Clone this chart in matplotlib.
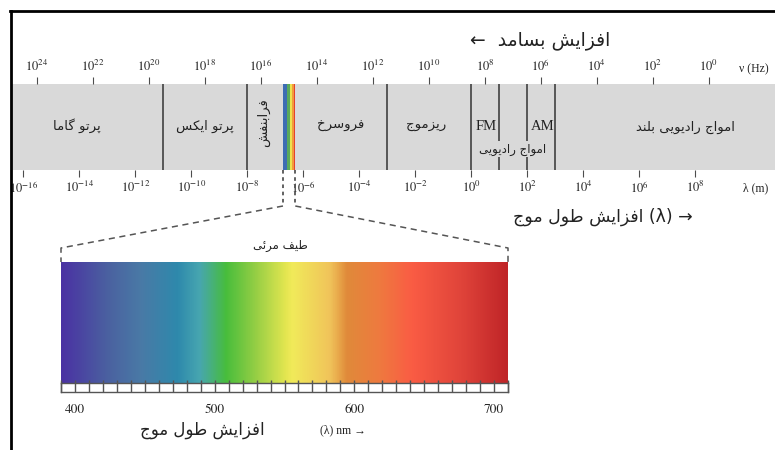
import numpy as np
import matplotlib
matplotlib.use('Agg')
import matplotlib.pyplot as plt
from matplotlib.lines import Line2D
from matplotlib.colors import LinearSegmentedColormap
from matplotlib.ticker import FixedLocator, FuncFormatter, NullLocator

plt.rcParams['mathtext.fontset'] = 'stix'

# ---------------- data ----------------
C_LIGHT = 3.0e8  # m/s
freq_tick_exp = [24, 22, 20, 18, 16, 14, 12, 10, 8, 6, 4, 2, 0]
wave_tick_exp = [-16, -14, -12, -10, -8, -6, -4, -2, 0, 2, 4, 6, 8]
wave_range_m = [10 ** -16.41, 10 ** 10.84]
boundaries_m = [1e-11, 1e-8, 1e-3, 1.0, 10.0, 100.0, 1000.0]
strip_edges_m = [1.85e-7, 2.6e-7, 3.2e-7, 4.0e-7, 4.6e-7, 5.1e-7]
strip_colors = ['#3d6db4', '#5aa95c', '#ece24e', '#f29a3a', '#e6412e']
visible_range_nm = [390, 710]
vis_stop_nm = [390, 423, 447, 473, 489, 508, 530, 551, 556, 583, 595, 618, 642, 677, 710]
vis_stop_colors = ['#4a32a3', '#4b61a0', '#497aa6', '#2e89ac', '#47a6b0', '#48bd3c',
                   '#98cf45', '#e4e650', '#f1ea5a', '#f0c35a', '#e08a3a', '#ee7a3f',
                   '#fa5c44', '#e0443a', '#c02528']
vis_tick_nm = [400, 500, 600, 700]
vis_cell_nm = 10

W, H = 775, 450
BAND_GRAY = '#d9d9d9'
LINE_GRAY = '#4d4d4d'

# ---------------- Persian shaping (presentation forms + visual order) ----------------
_FORMS = {
    '\u0627': ('\uFE8D', '\uFE8E', None, None),
    '\u0628': ('\uFE8F', '\uFE90', '\uFE91', '\uFE92'),
    '\u067E': ('\uFB56', '\uFB57', '\uFB58', '\uFB59'),
    '\u062A': ('\uFE95', '\uFE96', '\uFE97', '\uFE98'),
    '\u062C': ('\uFE9D', '\uFE9E', '\uFE9F', '\uFEA0'),
    '\u062E': ('\uFEA5', '\uFEA6', '\uFEA7', '\uFEA8'),
    '\u062F': ('\uFEA9', '\uFEAA', None, None),
    '\u0631': ('\uFEAD', '\uFEAE', None, None),
    '\u0632': ('\uFEAF', '\uFEB0', None, None),
    '\u0633': ('\uFEB1', '\uFEB2', '\uFEB3', '\uFEB4'),
    '\u0634': ('\uFEB5', '\uFEB6', '\uFEB7', '\uFEB8'),
    '\u0637': ('\uFEC1', '\uFEC2', '\uFEC3', '\uFEC4'),
    '\u0641': ('\uFED1', '\uFED2', '\uFED3', '\uFED4'),
    '\u06A9': ('\uFB8E', '\uFB8F', '\uFB90', '\uFB91'),
    '\u06AF': ('\uFB92', '\uFB93', '\uFB94', '\uFB95'),
    '\u0644': ('\uFEDD', '\uFEDE', '\uFEDF', '\uFEE0'),
    '\u0645': ('\uFEE1', '\uFEE2', '\uFEE3', '\uFEE4'),
    '\u0646': ('\uFEE5', '\uFEE6', '\uFEE7', '\uFEE8'),
    '\u0648': ('\uFEED', '\uFEEE', None, None),
    '\u06CC': ('\uFBFC', '\uFBFD', '\uFBFE', '\uFBFF'),
    '\u0626': ('\uFE89', '\uFE8A', '\uFE8B', '\uFE8C'),
}


def fa(s):
    out = []
    for i, ch in enumerate(s):
        if ch not in _FORMS:
            out.append(ch)
            continue
        prev = s[i - 1] if i > 0 else ''
        nxt = s[i + 1] if i + 1 < len(s) else ''
        jp = prev in _FORMS and _FORMS[prev][2] is not None
        jn = _FORMS[ch][2] is not None and nxt in _FORMS
        iso, fin, ini, med = _FORMS[ch]
        if jp and jn:
            out.append(med)
        elif jp:
            out.append(fin)
        elif jn:
            out.append(ini)
        else:
            out.append(iso)
    return ''.join(reversed(out))


region_labels = ['پرتو گاما', 'پرتو ایکس', 'فرابنفش', 'فروسرخ', 'ریزموج',
                 'FM', 'AM', 'امواج رادیویی', 'امواج رادیویی بلند']

FA = ['DejaVu Sans']
SERIF = ['Liberation Serif', 'DejaVu Serif']

fig = plt.figure(figsize=(W / 100, H / 100), dpi=100)
fig.patch.set_facecolor('white')


def fx(x):
    return x / W


def fy(y):
    return 1 - y / H


def ftext(x, y, s, **kw):
    return fig.text(fx(x), fy(y), s, **kw)


# ---------------- frame ----------------
fig.add_artist(Line2D([fx(11), fx(11)], [0, fy(11)], color='black', lw=2.0,
                      transform=fig.transFigure))
fig.add_artist(Line2D([fx(10), 1], [fy(11), fy(11)], color='black', lw=2.0,
                      transform=fig.transFigure))

# ---------------- spectrum band ----------------
band_top, band_bot = 84, 170
ax = fig.add_axes([fx(12), fy(band_bot), fx(775 - 12), (band_bot - band_top) / H])
ax.set_facecolor(BAND_GRAY)
ax.set_xscale('log')
ax.set_xlim(*wave_range_m)
ax.set_ylim(0, 1)
for sp in ax.spines.values():
    sp.set_visible(False)
ax.set_yticks([])
ax.xaxis.set_major_locator(FixedLocator([10.0 ** e for e in wave_tick_exp]))
ax.xaxis.set_minor_locator(NullLocator())
ax.xaxis.set_major_formatter(FuncFormatter(lambda v, p: r'$10^{%d}$' % int(round(np.log10(v)))))
ax.tick_params(axis='x', direction='out', length=5, width=0.8, color=LINE_GRAY,
               labelsize=9, pad=2, labelcolor='#222222')

axt = ax.twiny()
axt.set_xscale('log')
axt.set_xlim(C_LIGHT / wave_range_m[0], C_LIGHT / wave_range_m[1])
for sp in axt.spines.values():
    sp.set_visible(False)
axt.xaxis.set_major_locator(FixedLocator([10.0 ** e for e in freq_tick_exp]))
axt.xaxis.set_minor_locator(NullLocator())
axt.xaxis.set_major_formatter(FuncFormatter(lambda v, p: r'$10^{%d}$' % int(round(np.log10(v)))))
axt.tick_params(axis='x', direction='out', length=5, width=0.8, color=LINE_GRAY,
                labelsize=9, pad=2, labelcolor='#222222')

for b in boundaries_m:
    ax.axvline(b, color=LINE_GRAY, lw=1.3, zorder=2)

for i, col in enumerate(strip_colors):
    ax.axvspan(strip_edges_m[i], strip_edges_m[i + 1], color=col, lw=0, zorder=2)

lab_kw = dict(family=FA, fontsize=9.5, color='#222222', ha='center', va='center')
ftext(77, 126, fa(region_labels[0]), **lab_kw)
ftext(205, 126, fa(region_labels[1]), **lab_kw)
ftext(264, 123, fa(region_labels[2]), rotation=90, **lab_kw)
ftext(341, 126, fa(region_labels[3]), **lab_kw)
ftext(426, 126, fa(region_labels[4]), **lab_kw)
ftext(486, 127, region_labels[5], family=SERIF, fontsize=10.5, color='#222222', ha='center', va='center')
ftext(543, 127, region_labels[6], family=SERIF, fontsize=10.5, color='#222222', ha='center', va='center')
ftext(513, 149, fa(region_labels[7]), family=FA, fontsize=8.5, color='#222222',
      ha='center', va='center', zorder=5,
      bbox=dict(boxstyle='square,pad=0.15', fc=BAND_GRAY, ec='none'))
ftext(685, 127, fa(region_labels[8]), **lab_kw)

ftext(739, 69, 'ν (Hz)', family=SERIF, fontsize=8.5, color='#222222', ha='left', va='center')
ftext(743, 188, 'λ (m)', family=SERIF, fontsize=8.5, color='#222222', ha='left', va='center')

# ---------------- titles ----------------
ftext(610, 40, '←  ' + fa('افزایش بسامد'), family=FA, fontsize=13.5, color='#222222',
      ha='right', va='center')
ftext(513, 217, fa('افزایش طول موج') + ' (λ) →', family=FA, fontsize=12.5, color='#222222',
      ha='left', va='center')

# ---------------- visible spectrum ----------------
vis_top, vis_bot, ruler_bot = 262, 383, 392
axv = fig.add_axes([fx(61), fy(vis_bot), fx(508 - 61), (vis_bot - vis_top) / H])
cmap = LinearSegmentedColormap.from_list(
    'vis', list(zip([(n - vis_stop_nm[0]) / (vis_stop_nm[-1] - vis_stop_nm[0]) for n in vis_stop_nm],
                    vis_stop_colors)))
grad = np.linspace(visible_range_nm[0], visible_range_nm[1], 800)[None, :]
axv.imshow(grad, cmap=cmap, aspect='auto', extent=[visible_range_nm[0], visible_range_nm[1], 0, 1],
           vmin=visible_range_nm[0], vmax=visible_range_nm[1], interpolation='bilinear')
axv.set_xlim(*visible_range_nm)
axv.set_axis_off()

axr = fig.add_axes([fx(61), fy(ruler_bot), fx(508 - 61), (ruler_bot - vis_bot) / H])
axr.set_facecolor('white')
axr.set_xlim(*visible_range_nm)
axr.set_yticks([])
for sp in axr.spines.values():
    sp.set_color('#555555')
    sp.set_linewidth(1.0)
axr.set_xticks(vis_tick_nm)
axr.set_xticks(np.arange(visible_range_nm[0], visible_range_nm[1] + 1, vis_cell_nm), minor=True)
axr.tick_params(axis='x', which='both', direction='in', length=9, width=1.0, color='#555555')
axr.tick_params(axis='x', which='major', labelsize=9.5, pad=9, labelcolor='#222222')
for t in axr.get_xticklabels():
    t.set_fontfamily('STIXGeneral')

ftext(280, 246, fa('طیف مرئی'), family=FA, fontsize=8.5, color='#222222', ha='center', va='center')
ftext(265, 430, fa('افزایش طول موج'), family=FA, fontsize=12, color='#222222', ha='right', va='center')
ftext(320, 430, '(λ) nm →', family=SERIF, fontsize=8.5, color='#222222', ha='left', va='center')

# ---------------- connectors ----------------
inv = fig.transFigure.inverted()


def to_fig(axis, x, y):
    return inv.transform(axis.transData.transform((x, y)))


sl = to_fig(ax, strip_edges_m[0], 0)
sr = to_fig(ax, strip_edges_m[-1], 0)
vl = to_fig(axv, visible_range_nm[0], 1)
vr = to_fig(axv, visible_range_nm[1], 1)
for s, v in ((sl, vl), (sr, vr)):
    fig.add_artist(Line2D([s[0], s[0]], [s[1], fy(206)], color='#555555', lw=1.3,
                          ls=(0, (2, 2)), transform=fig.transFigure))
    fig.add_artist(Line2D([s[0], v[0], v[0]], [fy(206), fy(248), v[1]], color='#555555', lw=1.1,
                          ls=(0, (4, 3)), transform=fig.transFigure))

fig.savefig('out.png', dpi=100, facecolor='white')
